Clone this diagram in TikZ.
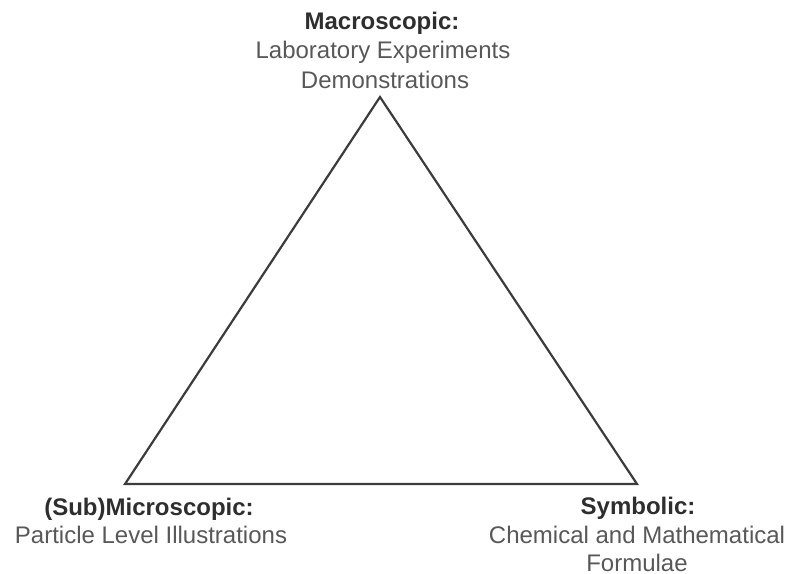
\documentclass[tikz,border=0pt]{standalone}
\usepackage{fontspec}
\setmainfont{Liberation Sans}
\definecolor{edgegray}{HTML}{3C3C3C}
\definecolor{headgray}{HTML}{2E2E2E}
\definecolor{bodygray}{HTML}{585858}
\begin{document}
\begin{tikzpicture}[x=1pt,y=-1pt,
  heading/.style={inner sep=0pt,anchor=base,text=headgray,font=\fontsize{24}{29}\selectfont\bfseries},
  bodyline/.style={inner sep=0pt,anchor=base,text=bodygray,font=\fontsize{24}{29}\selectfont},
  edge/.style={draw=edgegray,line width=2.2pt,line join=miter}]
  \useasboundingbox (0,0) rectangle (791,573);
  % corners of the triangle
  \coordinate (top) at (380,97);
  \coordinate (left) at (125,484);
  \coordinate (right) at (637,484);
  \draw[edge] (top) -- (left) -- (right) -- cycle;
  % macroscopic level
  \node[heading] (macro) at (382,29) {Macroscopic:};
  \node[bodyline] (macro1) at (383,58) {Laboratory Experiments};
  \node[bodyline] (macro2) at (385,88) {Demonstrations};
  % sub-microscopic level
  \node[heading] (micro) at (149,515) {(Sub)Microscopic:};
  \node[bodyline] (micro1) at (151,543) {Particle Level Illustrations};
  % symbolic level
  \node[heading] (symb) at (638,514) {Symbolic:};
  \node[bodyline] (symb1) at (637,543) {Chemical and Mathematical};
  \node[bodyline] (symb2) at (637,571) {Formulae};
\end{tikzpicture}
\end{document}
